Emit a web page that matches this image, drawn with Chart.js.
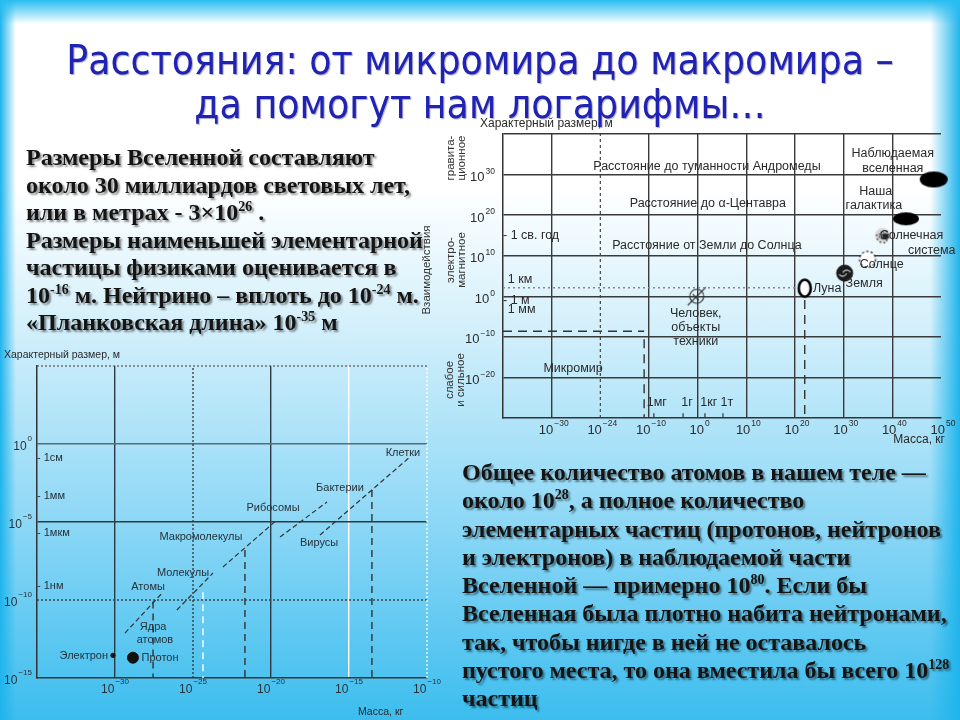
<!DOCTYPE html>
<html lang="ru">
<head>
<meta charset="utf-8">
<title>Расстояния: от микромира до макромира</title>
<script src="https://cdn.jsdelivr.net/npm/chart.js@4.4.1/dist/chart.umd.min.js"></script>
<style>
  html, body { margin: 0; padding: 0; }
  body {
    width: 960px; height: 720px; position: relative; overflow: hidden;
    background:
      linear-gradient(to bottom, #27bdf0 0px, rgba(39,189,240,0) 24px),
      linear-gradient(to right, #1eb4ec 0px, rgba(30,180,236,0) 16px, rgba(30,180,236,0) 930px, #1eb4ec 960px),
      linear-gradient(to bottom, #ffffff 0%, #ffffff 26%, #d2effb 46%, #8ed8f6 72%, #3cbdee 100%);
    font-family: "Liberation Serif", "Times New Roman", serif;
  }
  #title {
    position: absolute; left: 0; top: 38px; width: 960px; text-align: center;
    color: #1f22b2; font-family: "DejaVu Sans Condensed", "DejaVu Sans", sans-serif;
    font-size: 40.5px; line-height: 44px; text-shadow: 1px 1px 1px rgba(0,0,80,0.35);
  }
  .note {
    position: absolute; white-space: nowrap; font-weight: bold;
    font-size: 24px; color: #141414;
    text-shadow: 2px 2px 2px rgba(0,0,0,0.45);
  }
  .note sup { font-size: 14px; line-height: 0; vertical-align: 9px; }
  .lbl { position: absolute; white-space: nowrap; color: #2a2a2a;
    font-family: "Liberation Sans", Arial, sans-serif; font-size: 12px; }
  .rot { position: absolute; white-space: nowrap; color: #333; text-align: center;
    font-family: "Liberation Sans", Arial, sans-serif; font-size: 11.5px; line-height: 11px;
    transform: translate(-50%, -50%) rotate(-90deg); }
  canvas { position: absolute; }
</style>
</head>
<body>
<canvas id="bigChart" width="545" height="350" style="left:415px;top:110px"></canvas>
<canvas id="smallChart" width="450" height="375" style="left:0px;top:345px"></canvas>

<div id="title">Расстояния: от микромира до макромира –<br>да помогут нам логарифмы…</div>

<div class="lbl" style="left:480px;top:116px">Характерный размер, м</div>
<div class="lbl" style="right:15px;top:432px">Масса, кг</div>
<div class="rot" style="left:456px;top:158px">гравита-<br>ционное</div>
<div class="rot" style="left:456px;top:260px">электро-<br>магнитное</div>
<div class="rot" style="left:455px;top:380px">слабое<br>и сильное</div>
<div class="rot" style="left:426px;top:270px">Взаимодействия</div>

<div class="lbl" style="left:4px;top:348px;font-size:10.5px">Характерный размер, м</div>
<div class="lbl" style="left:358px;top:705px;font-size:10.5px">Масса, кг</div>

<div class="note" style="left:26px;top:144px;line-height:27.5px">Размеры Вселенной составляют<br>около 30 миллиардов световых лет,<br>или в метрах - 3×10<sup>26</sup> .<br>Размеры наименьшей элементарной<br>частицы физиками оценивается в<br>10<sup>-16</sup> м. Нейтрино – вплоть до 10<sup>-24</sup> м.<br>«Планковская длина» 10<sup>-35</sup> м</div>

<div class="note" style="left:462px;top:458px;line-height:28.3px">Общее количество атомов в нашем теле —<br>около 10<sup>28</sup>, а полное количество<br>элементарных частиц (протонов, нейтронов<br>и электронов) в наблюдаемой части<br>Вселенной — примерно 10<sup>80</sup>. Если бы<br>Вселенная была плотно набита нейтронами,<br>так, чтобы нигде в ней не оставалось<br>пустого места, то она вместила бы всего 10<sup>128</sup><br>частиц</div>

<script>
// ---------- big chart (whole universe), log10 of mass / size ----------
const bigMassTicks = [-30, -20, -10, 0, 10, 20, 30, 40, 50];
const bigMassExp = ['−30', '−24', '−10', '0', '10', '20', '30', '40', '50'];
const bigSizeTicks = [-20, -10, 0, 10, 20, 30];
const bigSizeExp = ['−20', '−10', '0', '10', '20', '30'];

const bodyNames = ['Наблюдаемая вселенная', 'Наша галактика', 'Солнечная система', 'Солнце', 'Земля', 'Луна', 'Человек'];
const bodyMass = [48.5, 42.8, 38.0, 34.9, 30.2, 22.0, -0.2];
const bodySize = [28.8, 19.1, 15.0, 9.1, 5.7, 2.0, 0.0];

const bigNoteText = ['Расстояние до туманности Андромеды', 'Расстояние до α-Центавра', 'Расстояние от Земли до Солнца',
  'Микромир', 'Наблюдаемая', 'вселенная', 'Наша', 'галактика', 'Солнечная', 'система', 'Солнце', 'Земля', 'Луна',
  'Человек,', 'объекты', 'техники', '1мг', '1г', '1кг', '1т', '- 1 св. год', '1 км', '- 1 м', '1 мм'];
const bigNoteMass = [1.9, 2.1, 1.9, -25.6, 40.1, 40.1, 36.6, 36.2, 37.4, 43.2, 33.3, 30.4, 23.7,
  -0.4, -0.4, -0.4, -8.4, -2.2, 2.3, 6.0, -40, -39, -40, -39];
const bigNoteSize = [32.0, 22.9, 12.6, -17.7, 35.2, 31.5, 25.9, 22.4, 15.0, 11.3, 7.9, 3.2, 2.0,
  -4.2, -7.6, -11.1, -26.1, -26.1, -26.1, -26.1, 15.0, 4.2, -1.0, -3.2];
const bigNoteAlign = ['center', 'center', 'center', 'center', 'center', 'center', 'center', 'center', 'left', 'left',
  'left', 'left', 'left', 'center', 'center', 'center', 'center', 'center', 'center', 'center', 'left', 'left', 'left', 'left'];

// reference lines of the big chart
const kmLineMass = [-40, 20.4], kmLineSize = [2.1, 2.1];
const mmLineMass = [-40, -11], mmLineSize = [-8.6, -8.6];
const microDropMass = [-11, -11], microDropSize = [-10.6, -30];
const moonDropMass = [22, 22], moonDropSize = [-0.9, -30];
const unitTickMass = [-9, -3, 1.5, 5.2];

// ---------- small chart (micro world) ----------
const smallMassTicks = [-30, -25, -20, -15, -10];
const smallMassExp = ['−30', '−25', '−20', '−15', '−10'];
const smallSizeTicks = [-15, -10, -5, 0, 5];
const smallSizeExp = ['−15', '−10', '−5', '0'];

const particleNames = ['Электрон', 'Протон'];
const particleMass = [-30.13, -28.85];
const particleSize = [-13.55, -13.7];

const smallNoteText = ['Клетки', 'Бактерии', 'Рибосомы', 'Макромолекулы', 'Вирусы', 'Молекулы', 'Атомы', 'Ядра', 'атомов',
  'Электрон', 'Протон', '- 1см', '- 1мм', '- 1мкм', '- 1нм'];
const smallNoteMass = [-11.54, -15.58, -19.87, -24.49, -16.92, -25.64, -27.88, -27.56, -27.44, -30.45, -28.3, -35, -35, -35, -35];
const smallNoteSize = [-0.56, -2.8, -4.07, -5.99, -6.37, -8.29, -9.19, -11.74, -12.57, -13.6, -13.7, -0.88, -3.31, -5.73, -9.12];
const smallNoteAlign = ['center', 'center', 'center', 'center', 'center', 'center', 'center', 'center', 'center',
  'right', 'left', 'left', 'left', 'left', 'left'];

// dashed diagonals: from -> to
const diagFromMass = [-29.36, -26.03, -23.08, -19.42, -16.86];
const diagFromSize = [-12.12, -10.64, -7.88, -5.96, -5.83];
const diagToMass = [-26.92, -23.72, -19.62, -16.41, -11.09];
const diagToSize = [-9.49, -8.27, -4.87, -3.72, -0.83];
// vertical drop lines down to the mass axis
const dropMass = [-27.56, -21.67, -13.53];
const dropTop = [-10.1, -6.8, -2.95];
const whiteDropMass = -24.36, whiteDropTop = -9.5;

// ---------- helpers ----------
const SANS = '"Liberation Sans", Arial, sans-serif';

function seg(xs, ys, color, dash, width) {
  return {
    data: xs.map((x, i) => ({ x, y: ys[i] })),
    showLine: true, borderColor: color, borderDash: dash, borderWidth: width || 1.3,
    pointRadius: 0, fill: false, clip: false
  };
}

function marker(w, h, paint) {
  const c = document.createElement('canvas');
  c.width = w; c.height = h;
  paint(c.getContext('2d'), w / 2, h / 2);
  return c;
}

const markers = [
  marker(30, 18, (g, cx, cy) => { g.fillStyle = '#000'; g.beginPath(); g.ellipse(cx, cy, 14, 8, 0, 0, Math.PI * 2); g.fill(); }),
  marker(28, 15, (g, cx, cy) => { g.fillStyle = '#000'; g.beginPath(); g.ellipse(cx, cy, 13, 6.5, 0, 0, Math.PI * 2); g.fill(); }),
  marker(20, 20, (g, cx, cy) => {
    g.fillStyle = '#d8d8d8'; g.beginPath(); g.arc(cx, cy, 7.5, 0, Math.PI * 2); g.fill();
    g.fillStyle = '#222';
    for (let i = 0; i < 22; i++) {
      const a = i * 2.39, r = 1.5 + (i % 5) * 1.3;
      g.fillRect(cx + Math.cos(a) * r, cy + Math.sin(a) * r, 1.4, 1.4);
    }
    g.beginPath(); g.arc(cx + 3, cy + 1, 3, 0, Math.PI * 2); g.fill();
  }),
  marker(20, 20, (g, cx, cy) => {
    g.fillStyle = '#fff'; g.strokeStyle = '#222'; g.lineWidth = 1.2; g.setLineDash([2.5, 2]);
    g.beginPath(); g.arc(cx, cy, 8, 0, Math.PI * 2); g.fill(); g.stroke();
  }),
  marker(20, 20, (g, cx, cy) => {
    g.fillStyle = '#1a1a1a'; g.beginPath(); g.arc(cx, cy, 8.5, 0, Math.PI * 2); g.fill();
    g.strokeStyle = '#bbb'; g.lineWidth = 1.3;
    g.beginPath(); g.arc(cx - 2, cy - 1, 4, 0.3, 2.6); g.stroke();
    g.beginPath(); g.arc(cx + 2, cy + 1, 4, 3.5, 5.8); g.stroke();
  }),
  marker(18, 22, (g, cx, cy) => {
    g.fillStyle = '#fff'; g.strokeStyle = '#000'; g.lineWidth = 2.6;
    g.beginPath(); g.ellipse(cx, cy, 6, 8.5, 0, 0, Math.PI * 2); g.fill(); g.stroke();
  }),
  marker(22, 22, (g, cx, cy) => {
    g.strokeStyle = '#333'; g.lineWidth = 1.1;
    g.beginPath(); g.arc(cx, cy, 7, 0, Math.PI * 2); g.stroke();
    g.beginPath(); g.moveTo(cx - 9, cy + 9); g.lineTo(cx + 9, cy - 9); g.stroke();
    g.beginPath(); g.moveTo(cx - 4, cy - 2); g.lineTo(cx + 2, cy + 4); g.stroke();
  })
];

// tick labels of the form 10^n drawn on the library's scales
const expTicks = {
  id: 'expTicks',
  afterDraw(chart, args, o) {
    const { ctx, chartArea } = chart;
    const draw = (exp, x, y, anchor) => {
      ctx.font = o.size + 'px ' + SANS; const wb = ctx.measureText('10').width;
      ctx.font = o.expSize + 'px ' + SANS; const we = ctx.measureText(exp).width;
      const left = anchor === 'right' ? x - wb - we - 1 : x - (wb + we + 1) / 2;
      ctx.textAlign = 'left'; ctx.textBaseline = 'middle';
      ctx.font = o.size + 'px ' + SANS; ctx.fillText('10', left, y);
      ctx.font = o.expSize + 'px ' + SANS; ctx.fillText(exp, left + wb + 1, y - o.rise);
    };
    ctx.save();
    ctx.fillStyle = o.color;
    o.xValues.forEach((v, i) => draw(o.xLabels[i], chart.scales.x.getPixelForValue(v) + o.xShift, chartArea.bottom + o.xGap, 'center'));
    o.yValues.forEach((v, i) => draw(o.yLabels[i], chartArea.left - o.yGap, chart.scales.y.getPixelForValue(v) + o.yDrop, 'right'));
    ctx.restore();
  }
};

// free text placed at data coordinates
const notes = {
  id: 'notes',
  afterDatasetsDraw(chart, args, o) {
    const { ctx } = chart;
    ctx.save();
    ctx.fillStyle = o.color;
    ctx.font = o.size + 'px ' + SANS;
    ctx.textBaseline = 'middle';
    o.text.forEach((t, i) => {
      ctx.textAlign = o.align[i];
      ctx.fillText(t, chart.scales.x.getPixelForValue(o.x[i]), chart.scales.y.getPixelForValue(o.y[i]));
    });
    ctx.restore();
  }
};

function axis(min, max, ticks, gridColor, fixed, key) {
  return {
    type: 'linear', min, max,
    afterBuildTicks: s => { s.ticks = ticks.map(v => ({ value: v })); },
    afterFit: s => { s[key] = fixed; },
    ticks: { display: false },
    grid: { color: c => gridColor(c.tick ? c.tick.value : null), lineWidth: 1.4, drawTicks: false },
    border: { display: true, color: '#333', width: 1.5 }
  };
}

// ---------- big chart ----------
const bigSets = [
  seg([-20, -20], [-30, 40], '#444', [3, 3], 1.2),
  seg(kmLineMass, kmLineSize, '#888', [2, 3], 1.6),
  seg(mmLineMass, mmLineSize, '#333', [9, 6], 1.4),
  seg(microDropMass, microDropSize, '#333', [9, 6], 1.4),
  seg(moonDropMass, moonDropSize, '#333', [9, 6], 1.4)
];
unitTickMass.forEach(m => bigSets.push(seg([m, m], [-30, -28.8], '#333', [], 1.2)));
bodyNames.forEach((name, i) => bigSets.push({
  label: name, data: [{ x: bodyMass[i], y: bodySize[i] }],
  pointStyle: markers[i], pointRadius: 8, clip: false
}));

new Chart(document.getElementById('bigChart'), {
  type: 'scatter',
  data: { datasets: bigSets },
  options: {
    responsive: false, animation: false,
    layout: { padding: { top: 24, right: 19, left: 0, bottom: 0 } },
    scales: {
      x: axis(-40, 50, bigMassTicks, v => (v === 50 || v === -20) ? 'rgba(0,0,0,0)' : '#3a3a3a', 42, 'height'),
      y: axis(-30, 40, bigSizeTicks.concat([40]), () => '#3a3a3a', 88, 'width')
    },
    plugins: {
      legend: { display: false }, tooltip: { enabled: false },
      expTicks: { xValues: bigMassTicks, xLabels: bigMassExp, yValues: bigSizeTicks, yLabels: bigSizeExp,
        size: 13, expSize: 8.5, rise: 6, xGap: 12, xShift: 2, yGap: 8, yDrop: 3, color: '#2b2b2b' },
      notes: { text: bigNoteText, x: bigNoteMass, y: bigNoteSize, align: bigNoteAlign, size: 12.5, color: '#2a2a2a' }
    }
  },
  plugins: [expTicks, notes]
});

// ---------- small chart ----------
const smallSets = [
  seg([-35, -10], [5, 5], '#555', [2, 2], 1.2),
  seg([-10, -10], [-15, 5], '#ffffff', [2, 2], 1.3),
  seg([-35, -10], [-10, -10], '#333', [2, 2], 1.3),
  seg([-25, -25], [-15, 5], '#333', [2, 2], 1.3),
  seg([whiteDropMass, whiteDropMass], [whiteDropTop, -15], '#ffffff', [7, 5], 1.4)
];
dropMass.forEach((m, i) => smallSets.push(seg([m, m], [dropTop[i], -15], '#333', [7, 5], 1.4)));
diagFromMass.forEach((m, i) => smallSets.push(seg([m, diagToMass[i]], [diagFromSize[i], diagToSize[i]], '#333', [5, 3], 1.2)));
particleNames.forEach((name, i) => smallSets.push({
  label: name, data: [{ x: particleMass[i], y: particleSize[i] }],
  pointRadius: i === 0 ? 2.2 : 5.5, backgroundColor: '#111', borderColor: '#111', clip: false
}));

new Chart(document.getElementById('smallChart'), {
  type: 'scatter',
  data: { datasets: smallSets },
  options: {
    responsive: false, animation: false,
    layout: { padding: { top: 21, right: 23, left: 0, bottom: 0 } },
    scales: {
      x: axis(-35, -10, smallMassTicks, v => v === -15 ? '#ffffff' : (v === -25 || v === -10) ? 'rgba(0,0,0,0)' : '#2d3a44', 42, 'height'),
      y: axis(-15, 5, smallSizeTicks, v => v === -5 ? '#2d3a44' : v === 0 ? '#5d6a74' : 'rgba(0,0,0,0)', 37, 'width')
    },
    plugins: {
      legend: { display: false }, tooltip: { enabled: false },
      expTicks: { xValues: smallMassTicks, xLabels: smallMassExp, yValues: smallSizeTicks.slice(0, 4), yLabels: smallSizeExp,
        size: 12, expSize: 8, rise: 8, xGap: 12, xShift: 0, yGap: 5, yDrop: 3, color: '#26323a' },
      notes: { text: smallNoteText, x: smallNoteMass, y: smallNoteSize, align: smallNoteAlign, size: 11, color: '#26323a' }
    }
  },
  plugins: [expTicks, notes]
});
</script>
</body>
</html>
